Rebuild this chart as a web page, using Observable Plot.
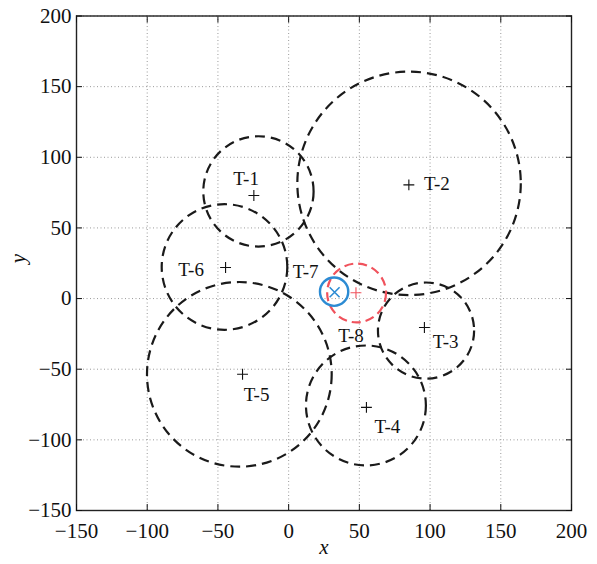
<!DOCTYPE html>
<html>
<head>
<meta charset="utf-8">
<script src="https://cdn.jsdelivr.net/npm/d3@7"></script>
<script src="https://cdn.jsdelivr.net/npm/@observablehq/plot@0.6"></script>
<style>
  html, body { margin: 0; padding: 0; background: #fff; }
  #chart { width: 597px; height: 564px; font-family: "Liberation Serif", serif; }
  #chart svg, #chart svg text { font-family: "Liberation Serif", serif !important; }
</style>
</head>
<body>
<div id="chart"></div>
<script>
// Tick values
const xTicks = [-150, -100, -50, 0, 50, 100, 150, 200];
const yTicks = [-150, -100, -50, 0, 50, 100, 150, 200];

// Circles (estimated regions): name, center x, center y, radius
const circleNames = ["T-1", "T-2", "T-3", "T-4", "T-5", "T-6", "T-8", "T-7"];
const circleX = [-21, 85.5, 97.5, 55, -34.5, -45, 48.4, 32.5];
const circleY = [75.5, 81.2, -23, -76, -54, 22, 3.6, 4.5];
const circleR = [39, 79, 34, 42.4, 65.3, 44.4, 20.8, 10];

// Target markers: name, x, y
const markerNames = ["T-1", "T-2", "T-3", "T-4", "T-5", "T-6", "T-8", "T-7"];
const markerX = [-24.6, 85, 96, 55, -32.6, -44.6, 47.6, 32.5];
const markerY = [73, 80.5, -20.5, -77, -53.6, 22, 4.1, 4.5];

// Labels: text, x, y
const labelTexts = ["T-1", "T-2", "T-3", "T-4", "T-5", "T-6", "T-7", "T-8"];
const labelX = [-30.1, 104.8, 111, 69.8, -22.7, -69, 12, 44.1];
const labelY = [84.8, 81.5, -31, -91, -67.9, 20.4, 19.2, -26.1];

const circles = circleNames.map((name, i) => ({name, x: circleX[i], y: circleY[i], r: circleR[i]}));
const markers = markerNames.map((name, i) => ({name, x: markerX[i], y: markerY[i]}));
const labels = labelTexts.map((text, i) => ({text, x: labelX[i], y: labelY[i]}));

const RED = "#f0525c";
const BLUE = "#2c8bd3";
const SERIF = "'Liberation Serif', serif";

function circleStyle(name) {
  if (name === "T-8") return {stroke: RED, width: 2.2, dash: "9,5"};
  if (name === "T-7") return {stroke: BLUE, width: 2.4, dash: null};
  return {stroke: "#1a1a1a", width: 2.2, dash: "10,6"};
}

// Circle mark drawn through Plot's x/y scales
const circleMark = (index, scales) => {
  const g = d3.create("svg:g").attr("fill", "none");
  for (const c of circles) {
    const s = circleStyle(c.name);
    const cx = scales.x(c.x), cy = scales.y(c.y);
    const r = Math.abs(scales.x(c.x + c.r) - cx);
    const el = g.append("circle")
      .attr("cx", cx).attr("cy", cy).attr("r", r)
      .attr("stroke", s.stroke).attr("stroke-width", s.width);
    if (s.dash) el.attr("stroke-dasharray", s.dash);
  }
  return g.node();
};

const plusMarkers = markers.filter(d => d.name !== "T-7");
const timesMarkers = markers.filter(d => d.name === "T-7");

const chart = Plot.plot({
  width: 597,
  height: 564,
  marginLeft: 76,
  marginRight: 26,
  marginTop: 15.5,
  marginBottom: 54,
  x: {domain: [-150, 200]},
  y: {domain: [-150, 200]},
  style: {fontFamily: SERIF, fontSize: "21px", background: "#fff", color: "#111"},
  marks: [
    Plot.gridX(xTicks, {stroke: "#9a9a9a", strokeOpacity: 1, strokeWidth: 1, strokeDasharray: "1,2.5"}),
    Plot.gridY(yTicks, {stroke: "#9a9a9a", strokeOpacity: 1, strokeWidth: 1, strokeDasharray: "1,2.5"}),
    circleMark,
    Plot.dot(plusMarkers, {x: "x", y: "y", symbol: "plus", r: 3.6, strokeWidth: 1.1,
      stroke: d => d.name === "T-8" ? RED : "#111"}),
    Plot.dot(timesMarkers, {x: "x", y: "y", symbol: "times", r: 4.6, strokeWidth: 1.6, stroke: BLUE}),
    Plot.text(labels, {x: "x", y: "y", text: "text", fontSize: 19, fill: "#111"}),
    Plot.frame({stroke: "#222", strokeWidth: 1.4}),
    // tick labels
    Plot.axisX(xTicks, {anchor: "bottom", tickSize: 0, tickPadding: 13, label: null, fontSize: 21}),
    Plot.axisY(yTicks, {anchor: "left", tickSize: 0, tickPadding: 5, label: null, fontSize: 21}),
    // inward ticks
    Plot.axisX(xTicks, {anchor: "bottom", tickSize: -6, tickFormat: () => "", label: null}),
    Plot.axisX(xTicks, {anchor: "top", tickSize: -6, tickFormat: () => "", label: null}),
    Plot.axisY(yTicks, {anchor: "left", tickSize: -6, tickFormat: () => "", label: null}),
    Plot.axisY(yTicks, {anchor: "right", tickSize: -6, tickFormat: () => "", label: null}),
    // axis titles
    Plot.text(["x"], {frameAnchor: "bottom", dy: 43, text: d => d, fontStyle: "italic", fontSize: 21}),
    Plot.text(["y"], {frameAnchor: "left", dx: -58, text: d => d, fontStyle: "italic", fontSize: 21, rotate: -90})
  ]
});

d3.select(chart).style("font-family", "Liberation Serif, serif");
d3.select(chart).selectAll("g, text").attr("font-family", "Liberation Serif, serif").style("font-family", "Liberation Serif, serif");

document.getElementById("chart").appendChild(chart);
</script>
</body>
</html>
